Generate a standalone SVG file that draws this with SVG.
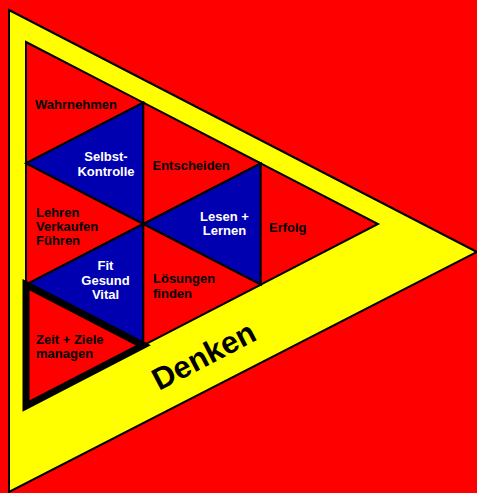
<svg xmlns="http://www.w3.org/2000/svg" width="477" height="493" viewBox="0 0 477 493">
<style>
.red{fill:#FF0000;stroke:#000;stroke-width:2;stroke-linejoin:miter}
.blue{fill:#0000B0;stroke:#000;stroke-width:2;stroke-linejoin:miter}
.t{font-family:"Liberation Sans",Arial,sans-serif;font-weight:bold;font-size:13px;fill:#000}
.w{fill:#fff;text-anchor:middle}
</style>
<rect x="0" y="0" width="477" height="493" fill="#FF0000"/>
<g id="denken">
<polygon points="9,10 477,252 9,492" fill="#FFFF00" stroke="#000" stroke-width="2"/>
<text class="t" style="font-size:31px" transform="translate(159,391) rotate(-27.5)">Denken</text>
</g>
<g id="wahrnehmen">
<polygon class="red" points="26,42 143.3,102.7 26,163.3"/>
<text class="t" x="35" y="109">Wahrnehmen</text>
</g>
<g id="selbstkontrolle">
<polygon class="blue" points="143.3,102.7 26,163.3 143.3,224"/>
<text class="t w" x="106" y="161">Selbst-</text>
<text class="t w" x="106" y="176">Kontrolle</text>
</g>
<g id="entscheiden">
<polygon class="red" points="143.3,102.7 260.7,163.3 143.3,224"/>
<text class="t" x="152.5" y="170">Entscheiden</text>
</g>
<g id="lehren">
<polygon class="red" points="26,163.3 143.3,224 26,284.7"/>
<text class="t" x="36" y="217">Lehren</text>
<text class="t" x="36" y="231">Verkaufen</text>
<text class="t" x="36" y="245">Führen</text>
</g>
<g id="lesen">
<polygon class="blue" points="260.7,163.3 143.3,224 260.7,284.7"/>
<text class="t w" x="224.5" y="221">Lesen +</text>
<text class="t w" x="224.5" y="235">Lernen</text>
</g>
<g id="erfolg">
<polygon class="red" points="260.7,163.3 378,224 260.7,284.7"/>
<text class="t" x="269" y="232">Erfolg</text>
</g>
<g id="fit">
<polygon class="blue" points="143.3,224 26,284.7 143.3,345.3"/>
<text class="t w" x="105.5" y="270">Fit</text>
<text class="t w" x="105.5" y="285">Gesund</text>
<text class="t w" x="105.5" y="299">Vital</text>
</g>
<g id="loesungen">
<polygon class="red" points="143.3,224 260.7,284.7 143.3,345.3"/>
<text class="t" x="153" y="283">Lösungen</text>
<text class="t" x="153" y="298">finden</text>
</g>
<g id="zeit">
<polygon points="26,284.7 143.3,345.3 26,406" fill="#FF0000" stroke="#000" stroke-width="7" stroke-linejoin="miter" stroke-miterlimit="10"/>
<text class="t" x="36" y="344">Zeit + Ziele</text>
<text class="t" x="36" y="358">managen</text>
</g>
<g id="connectors"></g>
</svg>
